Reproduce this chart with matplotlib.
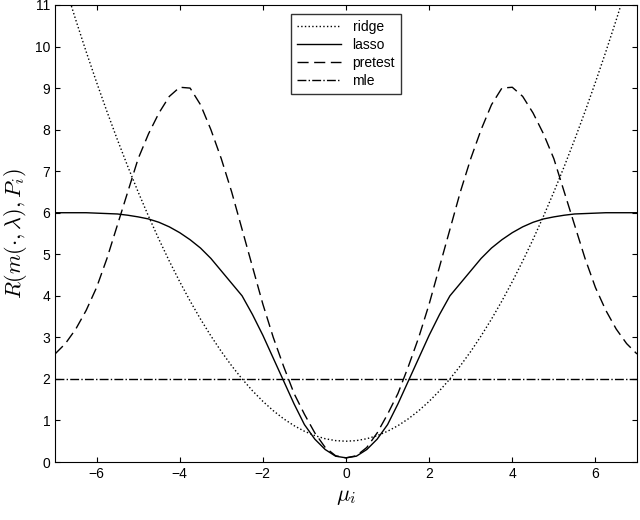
import matplotlib
matplotlib.use("Agg")
import matplotlib.pyplot as plt
import numpy as np

plt.rcParams['font.family'] = ['Liberation Sans', 'DejaVu Sans']
plt.rcParams['mathtext.fontset'] = 'cm'

mu_half = [0, 0.25, 0.5, 0.75, 1, 1.25, 1.5, 1.75, 2, 2.25, 2.5, 2.75, 3, 3.25, 3.5,
           3.75, 4, 4.25, 4.5, 4.75, 5, 5.25, 5.5, 5.75, 6, 6.25, 6.5, 6.75, 7]
ridge_half = [0.5, 0.515, 0.56, 0.635, 0.74, 0.875, 1.04, 1.235, 1.46, 1.715, 2.0, 2.315,
              2.66, 3.035, 3.44, 3.875, 4.34, 4.835, 5.36, 5.915, 6.5, 7.115, 7.76, 8.435,
              9.14, 9.875, 10.64, 11.435, 12.26]
lasso_half = [0.1, 0.14, 0.3, 0.55, 0.9, 1.4, 1.95, 2.5, 3.05, 3.55, 4.0, 4.3, 4.6, 4.9,
              5.15, 5.35, 5.52, 5.66, 5.77, 5.85, 5.9, 5.94, 5.97, 5.98, 5.99, 6.0, 6.0, 6.0, 6.0]
pretest_half = [0.1, 0.15, 0.35, 0.7, 1.15, 1.65, 2.3, 3.0, 3.8, 4.7, 5.6, 6.5, 7.3, 8.0,
                8.6, 9.0, 9.02, 8.8, 8.4, 7.9, 7.3, 6.5, 5.7, 4.9, 4.2, 3.65, 3.2, 2.85, 2.6]
mle_value = 2.0

def mirror(h, neg=False):
    h = list(h)
    left = [-v for v in h[:0:-1]] if neg else h[:0:-1]
    return np.array(left + h)

mu = mirror(mu_half, neg=True)
ridge = mirror(ridge_half)
lasso = mirror(lasso_half)
pretest = mirror(pretest_half)
mle = np.full_like(mu, mle_value, dtype=float)

fig = plt.figure(figsize=(6.4, 5.2), dpi=100)
ax = fig.add_axes([55/640, 58/520, 582/640, 457/520])
ax.plot(mu, ridge, 'k:', lw=1, label='ridge')
ax.plot(mu, lasso, 'k-', lw=1, label='lasso')
ax.plot(mu, pretest, 'k', ls=(0, (8, 4)), lw=1, label='pretest')
ax.plot(mu, mle, 'k-.', lw=1, label='mle')
ax.set_xlim(-7, 7)
ax.set_ylim(0, 11)
ax.set_xticks([-6, -4, -2, 0, 2, 4, 6])
ax.set_yticks(range(12))
ax.tick_params(direction='in', top=True, right=True, labelsize=10)
ax.set_xlabel(r'$\mu_i$', fontsize=16)
ax.set_ylabel(r'$R(m(\cdot,\lambda),P_i)$', fontsize=16)
ax.legend(loc='upper center', bbox_to_anchor=(0.5, 0.995), fancybox=False,
          edgecolor='k', fontsize=10, handlelength=3.2, borderpad=0.4, labelspacing=0.3)
fig.savefig('out.png', dpi=100)
